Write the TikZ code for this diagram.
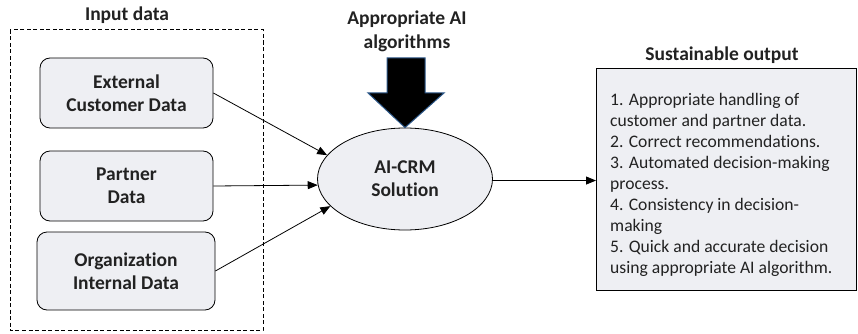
\documentclass[tikz,border=0pt]{standalone}
\usepackage{fontspec}
\setmainfont{Carlito}[Ligatures={NoCommon}]
\usetikzlibrary{shapes.geometric,arrows.meta}
\definecolor{boxfill}{HTML}{EEEFF3}
\definecolor{arrowedge}{HTML}{2E5A8C}
\definecolor{ink}{HTML}{222222}

\begin{document}
\begin{tikzpicture}[x=1pt,y=-1pt, text=ink,
  title/.style={font=\bfseries\fontsize{19.5}{24}\selectfont, align=center, inner sep=0pt},
  inbox/.style={draw, line width=0.8pt, fill=boxfill, rounded corners=10pt,
    minimum width=173, minimum height=70, align=center,
    font=\bfseries\fontsize{19.5}{23}\selectfont},
  conn/.style={line width=0.8pt, -{Triangle[length=10pt,width=8pt]}}]
\useasboundingbox (0,0) rectangle (858,334);

% input group
\node[title] (intitle) at (127,15) {Input data};
\draw[dash pattern=on 4pt off 2.5pt, line width=1pt] (10,30) rectangle (263,330);
\node[inbox] (ext) at (126.5,93) {External\\Customer Data};
\node[inbox] (par) at (126.5,186) {Partner\\Data};
\node[inbox, minimum width=178, minimum height=78] (org) at (126,271) {Organization\\Internal Data};

% central solution
\node[draw, ellipse, line width=0.8pt, fill=boxfill, minimum width=175, minimum height=102,
  align=center, font=\bfseries\fontsize{19.5}{23}\selectfont] (crm) at (405,179) {AI-CRM\\Solution};

% algorithm input
\node[title] (algtitle) at (407,31) {Appropriate AI\\algorithms};
\draw[fill=black, draw=arrowedge, line width=1pt, line join=miter]
  (387,58) -- (425,58) -- (425,93) -- (444,93) -- (crm.north) -- (368,93) -- (387,93) -- cycle;

% output
\node[title] (outtitle) at (722,55) {Sustainable output};
\node[draw, line width=0.8pt, fill=boxfill, anchor=north west, minimum width=260, minimum height=222,
  inner sep=0pt] (out) at (596,68) {};
\node[anchor=north west, align=left, inner sep=0pt,
  font=\fontsize{17.6}{21}\selectfont] (outtext) at (610,93.5)
  {1. Appropriate handling of\\customer and partner data.\\2. Correct recommendations.\\3. Automated decision-making\\process.\\4. Consistency in decision-\\making\\5. Quick and accurate decision\\using appropriate AI algorithm.};

% connectors
\draw[conn] (ext.east) -- (crm.163);
\draw[conn] (par.east) -- (crm.184);
\draw[conn] (org.east) -- (crm.200);
\draw[conn] (crm.-1) -- (out.west |- crm.-1);
\end{tikzpicture}
\end{document}
